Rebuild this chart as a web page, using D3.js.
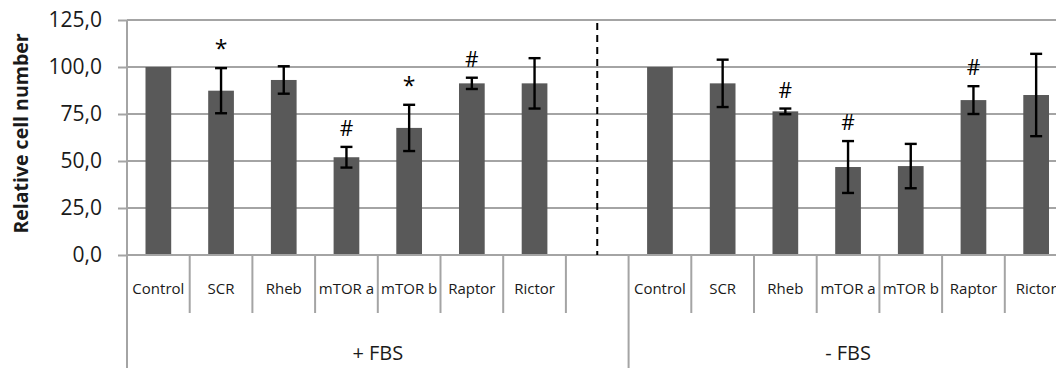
<!DOCTYPE html>
<html>
<head>
<meta charset="utf-8">
<script src="https://cdn.jsdelivr.net/npm/d3@7"></script>
<style>
  html, body { margin: 0; padding: 0; background: #fff; }
  svg { display: block; font-family: "Open Sans", "Noto Sans", sans-serif; }
</style>
</head>
<body>
<svg id="chart" width="1056" height="368"></svg>
<script>
// Serum conditions and the siRNA treatments shown under each
const groups = ["+ FBS", "- FBS"];
const categories = ["Control", "SCR", "Rheb", "mTOR a", "mTOR b", "Raptor", "Rictor"];

// Mean relative cell number and its error (per treatment)
const meanPlusFBS  = [100, 87.4, 93.1, 52.0, 67.6, 91.3, 91.3];
const errPlusFBS   = [0, 12.0, 7.3, 5.5, 12.3, 3.0, 13.4];
const meanMinusFBS = [100, 91.3, 76.4, 46.8, 47.3, 82.4, 85.1];
const errMinusFBS  = [0, 12.6, 1.5, 13.8, 11.8, 7.4, 21.9];

// Significance markers
const sigPlusFBS  = ["", "*", "", "#", "*", "#", ""];
const sigMinusFBS = ["", "", "#", "#", "", "#", ""];

// Value axis ticks
const yTicks = [0, 25, 50, 75, 100, 125];

(function draw() {
  const svg = d3.select("#chart");
  const W = 1056, H = 368;
  const plotLeft = 127, plotTop = 20, plotBottom = 255;
  const slotW = 62.7;

  // One slot per category, plus an empty slot that separates the two groups
  const slots = [];
  groups.forEach((g, gi) => {
    categories.forEach(c => slots.push({ key: g + "|" + c, group: g, cat: c }));
    if (gi < groups.length - 1) slots.push({ key: g + "|gap", group: g, cat: "" });
  });

  const x = d3.scaleBand()
    .domain(slots.map(s => s.key))
    .range([plotLeft, plotLeft + slots.length * slotW])
    .paddingInner(0).paddingOuter(0);

  const y = d3.scaleLinear().domain([0, 125]).range([plotBottom, plotTop]);

  const rows = [];
  categories.forEach((c, i) => {
    rows.push({ key: groups[0] + "|" + c, mean: meanPlusFBS[i], err: errPlusFBS[i], sig: sigPlusFBS[i] });
    rows.push({ key: groups[1] + "|" + c, mean: meanMinusFBS[i], err: errMinusFBS[i], sig: sigMinusFBS[i] });
  });

  const gridColor = "#a4a4a4";

  // Horizontal gridlines
  svg.append("g").selectAll("line").data(yTicks).join("line")
    .attr("x1", plotLeft).attr("x2", W)
    .attr("y1", d => y(d)).attr("y2", d => y(d))
    .attr("stroke", gridColor).attr("stroke-width", 2);

  // Value axis
  const yAxis = d3.axisLeft(y)
    .tickValues(yTicks)
    .tickSize(9)
    .tickPadding(16)
    .tickFormat(d => d3.format(".1f")(d).replace(".", ","));
  const ya = svg.append("g").attr("transform", `translate(${plotLeft},0)`).call(yAxis);
  ya.select(".domain").remove();
  ya.selectAll(".tick line").attr("stroke", gridColor).attr("stroke-width", 2);
  ya.selectAll(".tick text")
    .attr("fill", "#1a1a1a")
    .style("font-size", "21px")
    .style("font-family", "\"Open Sans\", sans-serif");

  // Vertical axis line, continuing down through the category area
  svg.append("line")
    .attr("x1", plotLeft).attr("x2", plotLeft)
    .attr("y1", plotTop).attr("y2", H)
    .attr("stroke", gridColor).attr("stroke-width", 2);

  // Bars
  svg.append("g").selectAll("rect").data(rows).join("rect")
    .attr("x", d => x(d.key) + x.bandwidth() * 0.295)
    .attr("width", x.bandwidth() * 0.41)
    .attr("y", d => y(d.mean))
    .attr("height", d => y(0) - y(d.mean))
    .attr("fill", "#595959");

  // Error bars
  const cap = 6;
  const eb = svg.append("g").attr("stroke", "#000").attr("stroke-width", 2.4);
  rows.filter(d => d.err > 0).forEach(d => {
    const cx = x(d.key) + x.bandwidth() / 2;
    const y1 = y(d.mean + d.err), y2 = y(d.mean - d.err);
    eb.append("line").attr("x1", cx).attr("x2", cx).attr("y1", y1).attr("y2", y2);
    eb.append("line").attr("x1", cx - cap).attr("x2", cx + cap).attr("y1", y1).attr("y2", y1);
    eb.append("line").attr("x1", cx - cap).attr("x2", cx + cap).attr("y1", y2).attr("y2", y2);
  });

  // Significance markers above the error bars
  svg.append("g").selectAll("text").data(rows.filter(d => d.sig)).join("text")
    .attr("x", d => x(d.key) + x.bandwidth() / 2)
    .attr("y", d => y(d.mean + d.err) - 11)
    .attr("text-anchor", "middle")
    .style("font-size", d => d.sig === "*" ? "23px" : "21px")
    .attr("fill", "#000")
    .text(d => d.sig);

  // Category axis baseline
  svg.append("line")
    .attr("x1", plotLeft).attr("x2", W)
    .attr("y1", plotBottom).attr("y2", plotBottom)
    .attr("stroke", gridColor).attr("stroke-width", 2);

  // Category separators (short) and group separators (full height)
  const bounds = slots.map((s, i) => ({
    x: x(s.key) + x.bandwidth(),
    last: i === slots.length - 1 || slots[i + 1].group !== s.group
  }));
  svg.append("g").selectAll("line").data(bounds).join("line")
    .attr("x1", d => d.x).attr("x2", d => d.x)
    .attr("y1", plotBottom)
    .attr("y2", d => d.last ? H : 313)
    .attr("stroke", gridColor).attr("stroke-width", 2);

  // Category labels
  svg.append("g").selectAll("text").data(slots.filter(s => s.cat)).join("text")
    .attr("x", d => x(d.key) + x.bandwidth() / 2)
    .attr("y", 289)
    .attr("dy", "0.35em")
    .attr("text-anchor", "middle")
    .style("font-size", "15px")
    .attr("fill", "#1a1a1a")
    .text(d => d.cat);

  // Group labels
  svg.append("g").selectAll("text").data(groups).join("text")
    .attr("x", g => {
      const ks = slots.filter(s => s.group === g);
      const a = x(ks[0].key), b = x(ks[ks.length - 1].key) + x.bandwidth();
      return (a + b) / 2;
    })
    .attr("y", 353)
    .attr("dy", "0.35em")
    .attr("text-anchor", "middle")
    .style("font-size", "20px")
    .attr("fill", "#1a1a1a")
    .text(g => g);

  // Dashed divider in the empty slot between the groups
  const gapKey = slots.find(s => !s.cat).key;
  const gx = x(gapKey) + x.bandwidth() / 2;
  svg.append("line")
    .attr("x1", gx).attr("x2", gx)
    .attr("y1", y(125) + 3).attr("y2", y(0))
    .attr("stroke", "#000").attr("stroke-width", 2)
    .attr("stroke-dasharray", "7,5");

  // Value axis title
  svg.append("text")
    .attr("transform", `translate(21,${(plotTop + plotBottom) / 2 - 4}) rotate(-90)`)
    .attr("text-anchor", "middle")
    .attr("dy", "0.35em")
    .style("font-size", "19.5px")
    .style("font-weight", "bold")
    .attr("fill", "#1a1a1a")
    .text("Relative cell number");
})();
</script>
</body>
</html>
